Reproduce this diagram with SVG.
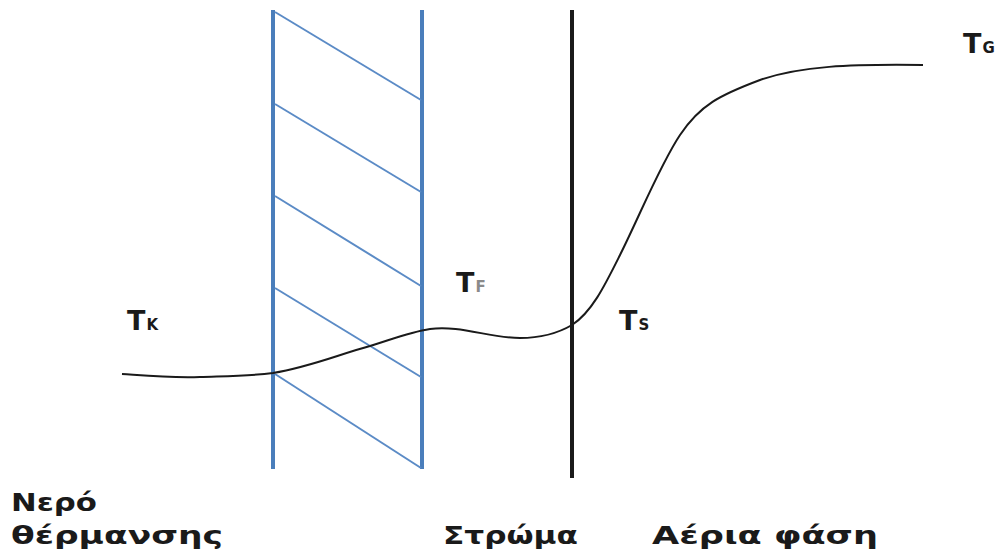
<svg xmlns="http://www.w3.org/2000/svg" width="1008" height="558" viewBox="0 0 1008 558">
<style>
.wall{stroke:#4a7ebb;stroke-width:4;fill:none}
.hatch{stroke:#5b8bc6;stroke-width:2;fill:none}
.layer{stroke:#1a1a1a;stroke-width:4;fill:none}
.curve{stroke:#1a1a1a;stroke-width:2;fill:none}
.t{font-family:"DejaVu Sans","Liberation Sans",sans-serif;fill:#1a1a1a;font-weight:bold}
.big{font-size:27px}
.sub{font-size:15px}
.lbl{font-family:"DejaVu Sans","Liberation Sans",sans-serif;font-size:25px;fill:#1a1a1a;font-weight:bold}
</style>
<rect width="1008" height="558" fill="#ffffff"/>
<g id="wall">
<line class="wall" x1="273" y1="10" x2="273" y2="469"/>
<line class="wall" x1="422" y1="10" x2="422" y2="469"/>
<line class="hatch" x1="275" y1="12" x2="421" y2="100"/>
<line class="hatch" x1="275" y1="104" x2="421" y2="192"/>
<line class="hatch" x1="275" y1="196" x2="421" y2="286"/>
<line class="hatch" x1="275" y1="288" x2="421" y2="377"/>
<line class="hatch" x1="275" y1="374" x2="421" y2="468"/>
</g>
<g id="layer">
<line class="layer" x1="572" y1="10" x2="572" y2="478"/>
</g>
<g id="connectors">
<path class="curve" d="M122,374 C150,376 170,378 200,377 C230,376 250,376 273,373 C310,367 340,354 370,346 C390,340 410,332 430,329 C460,325 490,338 520,338 C545,338 560,332 572,325 C592,312 605,285 620,255 C640,215 660,165 680,135 C700,105 720,95 760,80 C800,66 850,64 923,65"/>
</g>
<g id="label-TK"><text class="t" x="127" y="330"><tspan class="big">T</tspan><tspan class="sub" dx="1">K</tspan></text></g>
<g id="label-TF"><text class="t" x="456" y="292"><tspan class="big">T</tspan><tspan class="sub" dx="1" fill="#8a8a8a">F</tspan></text></g>
<g id="label-TS"><text class="t" x="619" y="330"><tspan class="big">T</tspan><tspan class="sub" dx="1">S</tspan></text></g>
<g id="label-TG"><text class="t" x="963" y="53"><tspan class="big">T</tspan><tspan class="sub" dx="1">G</tspan></text></g>
<g id="label-water">
<text class="lbl" x="11" y="511" textLength="86" lengthAdjust="spacingAndGlyphs">Νερό</text>
<text class="lbl" x="11" y="544" textLength="212" lengthAdjust="spacingAndGlyphs">θέρμανσης</text>
</g>
<g id="label-layer"><text class="lbl" x="443" y="544" textLength="135" lengthAdjust="spacingAndGlyphs">Στρώμα</text></g>
<g id="label-gas"><text class="lbl" x="652" y="544" textLength="226" lengthAdjust="spacingAndGlyphs">Αέρια φάση</text></g>
</svg>
